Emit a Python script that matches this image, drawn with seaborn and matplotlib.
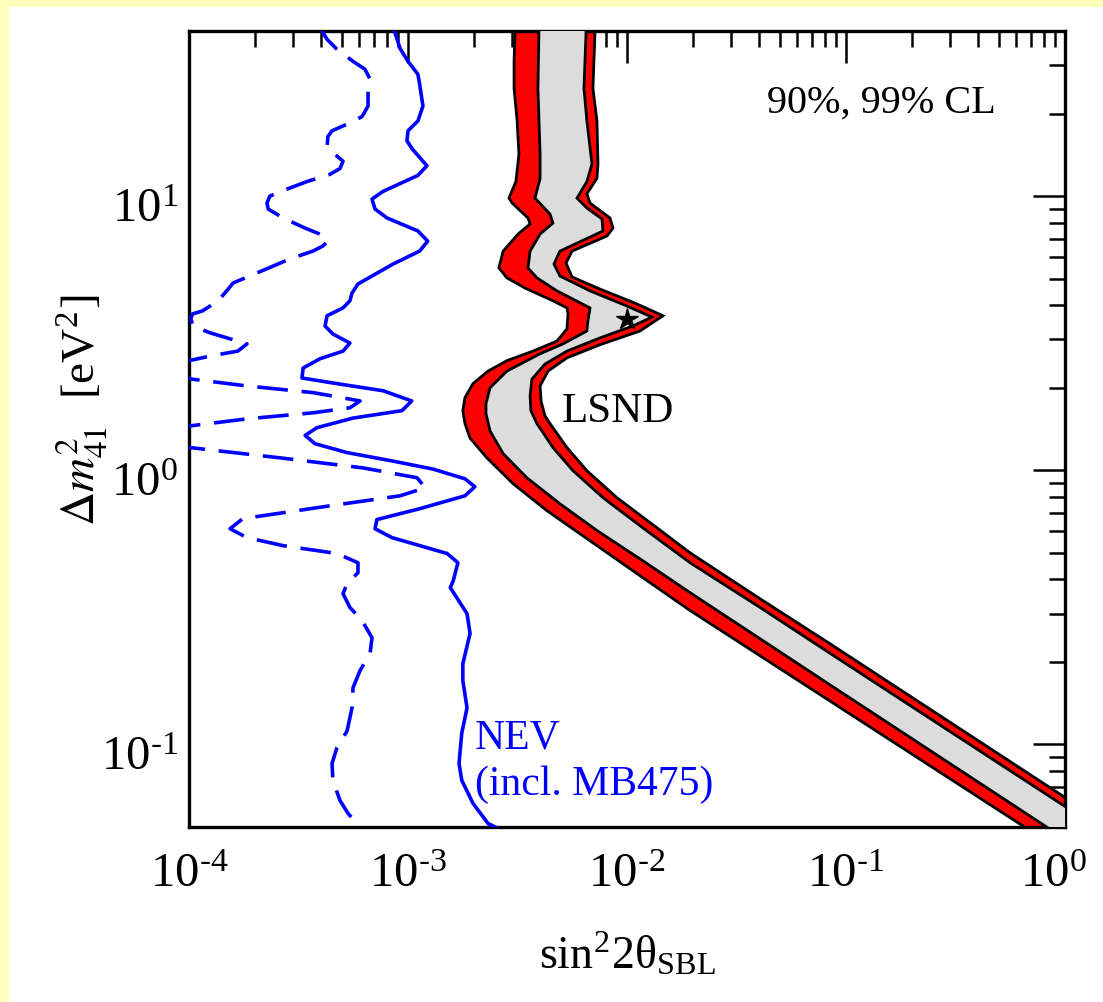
import matplotlib
matplotlib.use("Agg")
import matplotlib.pyplot as plt
import seaborn as sns
from matplotlib.patches import Rectangle
from matplotlib.ticker import LogLocator, NullFormatter
from matplotlib.transforms import ScaledTranslation

# ---------------- data ----------------
# NEV solid curve
nev_solid_y = [42, 34.6, 31.0, 27.8, 25.6, 21.3, 18.8, 17.3, 15.9, 14.8, 12.9, 11.9, 10.4, 9.75, 8.97,
               8.32, 7.46, 6.85, 6.30, 5.65, 5.11, 4.78, 4.43, 4.15, 3.91, 3.66, 3.36, 3.14, 2.91, 2.72,
               2.55, 2.36, 2.17, 2.07, 1.95, 1.79, 1.65, 1.55, 1.43, 1.34, 1.25, 1.16, 1.08, 1.01, 0.931,
               0.871, 0.807, 0.724, 0.661, 0.612, 0.568, 0.497, 0.460, 0.396, 0.373, 0.343, 0.300, 0.254,
               0.197, 0.171, 0.136, 0.110, 0.0853, 0.0740, 0.0610, 0.0515, 0.0494, 0.047]
nev_solid_x = [8.5e-4, 9.19e-4, 1.00e-3, 1.11e-3, 1.13e-3, 1.17e-3, 1.11e-3, 1.00e-3, 9.89e-4, 1.05e-3,
               1.22e-3, 1.11e-3, 7.69e-4, 6.85e-4, 7.07e-4, 8.02e-4, 1.11e-3, 1.23e-3, 1.13e-3, 8.54e-4,
               6.85e-4, 5.91e-4, 5.55e-4, 5.43e-4, 5.05e-4, 4.27e-4, 4.18e-4, 4.54e-4, 5.43e-4, 5.05e-4,
               3.96e-4, 3.32e-4, 3.28e-4, 4.74e-4, 7.69e-4, 1.04e-3, 9.39e-4, 5.61e-4, 3.84e-4, 3.39e-4,
               3.76e-4, 5.27e-4, 8.54e-4, 1.30e-3, 1.82e-3, 2.02e-3, 1.82e-3, 1.13e-3, 7.21e-4, 7.07e-4,
               8.45e-4, 1.51e-3, 1.69e-3, 1.61e-3, 1.56e-3, 1.67e-3, 1.86e-3, 1.92e-3, 1.78e-3, 1.78e-3,
               1.86e-3, 1.76e-3, 1.71e-3, 1.76e-3, 1.98e-3, 2.32e-3, 2.58e-3, 2.9e-3]

# NEV dashed curve
nev_dash_y = [42, 37.3, 34.3, 31.0, 29.0, 26.7, 23.7, 21.3, 19.5, 18.5, 17.3, 16.5, 15.2, 14.4, 13.4,
              12.6, 12.0, 11.3, 10.6, 10.0, 9.43, 8.97, 8.32, 7.64, 7.27, 6.85, 6.58, 6.30, 5.90, 5.24,
              4.82, 4.58, 4.15, 3.81, 3.72, 3.59, 3.36, 3.17, 2.89, 2.72, 2.61, 2.51, 2.33, 2.15, 2.03,
              1.92, 1.79, 1.69, 1.62, 1.54, 1.45, 1.33, 1.21, 1.11, 1.02, 0.939, 0.863, 0.807, 0.742,
              0.666, 0.612, 0.568, 0.531, 0.497, 0.460, 0.423, 0.386, 0.355, 0.316, 0.283, 0.245, 0.215,
              0.186, 0.161, 0.136, 0.112, 0.0975, 0.0853, 0.0740, 0.0625, 0.0561, 0.0499, 0.047]
nev_dash_x = [3.9e-4, 4.27e-4, 4.74e-4, 5.61e-4, 6.36e-4, 6.71e-4, 6.57e-4, 6.57e-4, 6.17e-4, 5.43e-4,
              4.50e-4, 4.31e-4, 4.27e-4, 4.54e-4, 5.05e-4, 4.89e-4, 4.40e-4, 3.46e-4, 2.80e-4, 2.34e-4,
              2.27e-4, 2.30e-4, 2.69e-4, 3.39e-4, 3.96e-4, 4.31e-4, 4.09e-4, 3.68e-4, 2.89e-4, 2.04e-4,
              1.59e-4, 1.51e-4, 1.36e-4, 1.15e-4, 1.04e-4, 1.02e-4, 1.04e-4, 1.25e-4, 1.84e-4, 1.67e-4,
              1.25e-4, 1.0e-4, 8.0e-5, 1.03e-4, 1.84e-4, 3.68e-4, 6.04e-4, 5.43e-4, 3.68e-4, 1.84e-4,
              1.0e-4, 8.0e-5, 1.01e-4, 2.60e-4, 6.23e-4, 1.10e-3, 1.20e-3, 9.19e-4, 4.40e-4, 1.76e-4,
              1.54e-4, 1.84e-4, 2.69e-4, 4.74e-4, 5.91e-4, 5.91e-4, 5.27e-4, 5.05e-4, 5.43e-4, 6.17e-4,
              6.85e-4, 6.71e-4, 6.04e-4, 5.61e-4, 5.55e-4, 5.27e-4, 4.74e-4, 4.50e-4, 4.54e-4, 4.89e-4,
              5.32e-4, 6.04e-4, 6.4e-4]

# LSND 99% CL boundaries (left / right)
lsnd99_left_y = [50, 39.3, 31.0, 24.7, 18.8, 14.2, 11.3, 9.83, 9.43, 8.32, 7.91, 7.27, 6.30, 5.47, 5.03,
                 4.62, 4.15, 3.91, 3.72, 3.28, 2.96, 2.72, 2.51, 2.30, 2.07, 1.84, 1.65, 1.48, 1.31, 1.11,
                 0.893, 0.712, 0.553, 0.420, 0.308, 0.144, 0.0499, 0.03]
lsnd99_left_x = [3.08e-3, 3.08e-3, 3.05e-3, 3.05e-3, 3.15e-3, 3.21e-3, 3.11e-3, 2.89e-3, 2.99e-3, 3.53e-3,
                 3.61e-3, 3.18e-3, 2.72e-3, 2.60e-3, 2.83e-3, 3.42e-3, 4.59e-3, 5.32e-3, 5.38e-3, 5.32e-3,
                 4.79e-3, 3.72e-3, 2.83e-3, 2.32e-3, 1.98e-3, 1.82e-3, 1.78e-3, 1.82e-3, 1.92e-3, 2.29e-3,
                 3.02e-3, 4.31e-3, 6.78e-3, 1.11e-2, 1.94e-2, 8.45e-2, 0.656, 1.72]
lsnd99_right_y = [50, 39.3, 24.7, 18.8, 13.1, 11.6, 10.2, 9.43, 8.32, 7.64, 7.15, 6.30, 5.70, 5.07, 4.58,
                  4.07, 3.66, 3.22, 2.87, 2.57, 2.30, 2.03, 1.79, 1.58, 1.48, 1.21, 0.996, 0.794, 0.617,
                  0.500, 0.340, 0.233, 0.0641, 0.0372]
lsnd99_right_x = [7.14e-3, 7.14e-3, 6.99e-3, 7.29e-3, 7.37e-3, 7.29e-3, 6.56e-3, 6.78e-3, 8.36e-3, 8.63e-3,
                  8.10e-3, 5.61e-3, 5.27e-3, 5.61e-3, 7.53e-3, 1.088e-2, 1.46e-2, 1.146e-2, 7.53e-3, 5.32e-3,
                  4.36e-3, 4.01e-3, 4.05e-3, 4.22e-3, 4.45e-3, 5.32e-3, 6.56e-3, 9.00e-3, 1.37e-2, 1.94e-2,
                  4.05e-2, 8.45e-2, 1.0, 3.0]

# LSND 90% CL boundaries (left / right)
lsnd90_left_y = [50, 39.3, 24.7, 14.2, 11.6, 9.83, 8.60, 7.97, 7.27, 6.30, 5.47, 5.03, 4.51, 3.91, 3.51,
                 3.22, 2.89, 2.66, 2.30, 2.00, 1.75, 1.61, 1.39, 1.15, 0.939, 0.755, 0.603, 0.468, 0.358,
                 0.165, 0.0499, 0.03]
lsnd90_left_x = [3.96e-3, 3.96e-3, 3.92e-3, 4.01e-3, 4.01e-3, 3.80e-3, 4.45e-3, 4.59e-3, 4.01e-3, 3.61e-3,
                 3.53e-3, 3.88e-3, 4.79e-3, 6.78e-3, 6.63e-3, 6.56e-3, 5.10e-3, 4.01e-3, 2.83e-3, 2.37e-3,
                 2.27e-3, 2.27e-3, 2.37e-3, 2.72e-3, 3.49e-3, 4.94e-3, 7.29e-3, 1.18e-2, 1.94e-2, 8.45e-2,
                 0.828, 2.22]
lsnd90_right_y = [50, 39.3, 24.7, 18.8, 13.1, 11.3, 9.83, 9.04, 8.25, 7.46, 6.30, 5.65, 5.11, 4.51, 3.97,
                  3.62, 3.36, 3.04, 2.72, 2.44, 2.15, 1.87, 1.65, 1.48, 1.21, 0.996, 0.794, 0.617, 0.460,
                  0.316, 0.215, 0.0594, 0.0345]
lsnd90_right_x = [6.50e-3, 6.50e-3, 6.36e-3, 6.56e-3, 6.92e-3, 6.56e-3, 5.91e-3, 6.56e-3, 7.69e-3, 7.77e-3,
                  4.94e-3, 4.64e-3, 4.94e-3, 6.78e-3, 1.00e-2, 1.30e-2, 1.065e-2, 7.53e-3, 5.32e-3, 4.22e-3,
                  3.68e-3, 3.61e-3, 3.64e-3, 3.88e-3, 4.59e-3, 5.67e-3, 7.77e-3, 1.18e-2, 1.94e-2, 4.05e-2,
                  8.45e-2, 1.0, 3.0]

best_fit_x = [1.0e-2]
best_fit_y = [3.56]

x_ticks = [1e-4, 1e-3, 1e-2, 1e-1, 1e0]
x_ticklabels = [r"$\mathregular{10^{\text{-}4}}$", r"$\mathregular{10^{\text{-}3}}$",
                r"$\mathregular{10^{\text{-}2}}$", r"$\mathregular{10^{\text{-}1}}$",
                r"$\mathregular{10^{0}}$"]
y_ticks = [1e-1, 1e0, 1e1]
y_ticklabels = [r"$\mathregular{10^{\text{-}1}}$", r"$\mathregular{10^{0}}$", r"$\mathregular{10^{1}}$"]

# ---------------- style ----------------
sns.set_theme(style="white")
plt.rcParams["font.family"] = ["Liberation Serif", "DejaVu Serif"]
plt.rcParams["mathtext.fontset"] = "stix"
plt.rcParams["text.color"] = "black"
plt.rcParams["axes.labelcolor"] = "black"

W, H = 1103, 1002
fig = plt.figure(figsize=(W / 100, H / 100), dpi=100)
fig.patch.set_facecolor("#FFFFBB")
fig.patches.append(Rectangle((9 / W, 0), 1, (H - 7) / H, transform=fig.transFigure,
                             facecolor="white", edgecolor="none", zorder=-10))

ax = fig.add_axes([189 / W, 175 / H, 876 / W, 796 / H])
ax.set_facecolor("white")
ax.set_xscale("log")
ax.set_yscale("log")

# LSND regions
ax.fill(lsnd99_left_x + lsnd99_right_x[::-1], lsnd99_left_y + lsnd99_right_y[::-1],
        facecolor="#FF0000", edgecolor="black", linewidth=2.0, zorder=2)
ax.fill(lsnd90_left_x + lsnd90_right_x[::-1], lsnd90_left_y + lsnd90_right_y[::-1],
        facecolor="#DCDCDC", edgecolor="black", linewidth=2.0, zorder=3)

# NEV curves
sns.lineplot(x=nev_solid_x, y=nev_solid_y, sort=False, estimator=None, color="#0000FF",
             linewidth=2.6, ax=ax, zorder=4)
sns.lineplot(x=nev_dash_x, y=nev_dash_y, sort=False, estimator=None, color="#0000FF",
             linewidth=2.6, linestyle=(0, (8.5, 3.8)), ax=ax, zorder=4)

ax.plot(best_fit_x, best_fit_y, marker="*", color="black", markersize=16, linestyle="none", zorder=6)

ax.set_xlim(1e-4, 1e0)
ax.set_ylim(0.05, 40)

ax.set_xticks(x_ticks)
ax.set_xticklabels(x_ticklabels)
ax.set_yticks(y_ticks)
ax.set_yticklabels(y_ticklabels)
ax.xaxis.set_minor_locator(LogLocator(base=10, subs=range(2, 10), numticks=20))
ax.yaxis.set_minor_locator(LogLocator(base=10, subs=range(2, 10), numticks=20))
ax.xaxis.set_minor_formatter(NullFormatter())
ax.yaxis.set_minor_formatter(NullFormatter())

ax.tick_params(which="both", direction="in", top=True, right=True, colors="black",
               labelsize=35, width=1.8)
ax.tick_params(which="major", length=23)
ax.tick_params(which="minor", length=11.5)
ax.tick_params(axis="x", which="major", pad=19)
ax.tick_params(axis="y", which="major", pad=8)
for s in ax.spines.values():
    s.set_linewidth(2.4)
    s.set_color("black")

# small label offsets as in the reference
for lab in ax.get_yticklabels():
    lab.set_transform(lab.get_transform() + ScaledTranslation(0, -0.09, fig.dpi_scale_trans))
xl = ax.get_xticklabels()
xl[-1].set_transform(xl[-1].get_transform() + ScaledTranslation(-0.12, 0, fig.dpi_scale_trans))

ax.set_xlabel("")
ax.set_ylabel("")
ax.text(0.5, (827 - 955) / 796, r"sin$^{\mathregular{2}}$2θ$_{\mathregular{SBL}}$", transform=ax.transAxes,
        ha="center", va="center", fontsize=33)
ax.text((82 - 189) / 876, (827 - 410) / 796, r"$\Delta m^2_{41}$  [eV$^{\mathregular{2}}$]",
        transform=ax.transAxes, ha="center", va="center", rotation=90, fontsize=34)

ax.text((767 - 189) / 876, (827 - 113) / 796, "90%, 99% CL", transform=ax.transAxes,
        ha="left", va="baseline", fontsize=29)
ax.text(5.05e-3, 1.50, "LSND", ha="left", va="baseline", fontsize=31, zorder=7)
ax.text(2.02e-3, 0.0967, "NEV", ha="left", va="baseline", fontsize=30, color="#0000FF", zorder=7)
ax.text(2.02e-3, 0.0652, "(incl. MB475)", ha="left", va="baseline", fontsize=30, color="#0000FF", zorder=7)

fig.savefig("out.png", dpi=100)
